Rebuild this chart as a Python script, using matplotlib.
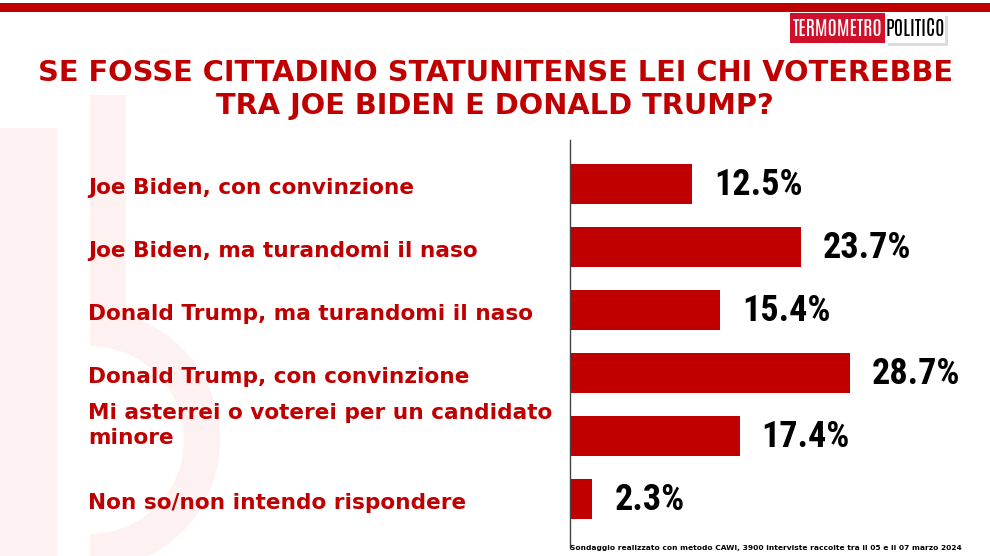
import numpy as np
import matplotlib.pyplot as plt
import matplotlib.patches as mpa
import matplotlib.transforms as mtr

categories = ["Joe Biden, con convinzione",
              "Joe Biden, ma turandomi il naso",
              "Donald Trump, ma turandomi il naso",
              "Donald Trump, con convinzione",
              "Mi asterrei o voterei per un candidato\nminore",
              "Non so/non intendo rispondere"]
values = [12.5, 23.7, 15.4, 28.7, 17.4, 2.3]
value_labels = ["12.5%", "23.7%", "15.4%", "28.7%", "17.4%", "2.3%"]
title_lines = ["SE FOSSE CITTADINO STATUNITENSE LEI CHI VOTEREBBE",
               "TRA JOE BIDEN E DONALD TRUMP?"]
note = "Sondaggio realizzato con metodo CAWI, 3900 interviste raccolte tra il 05 e il 07 marzo 2024"

RED = '#c00000'
PINK = '#fdf1f1'
NARROW = ['Roboto Condensed', 'DejaVu Sans']
LOGO = ['Antonio', 'Roboto Condensed', 'DejaVu Sans']
W, H = 990, 556

fig = plt.figure(figsize=(9.9, 5.56), dpi=100)
fig.patch.set_facecolor('white')

# background layer in pixel coordinates
bg = fig.add_axes([0, 0, 1, 1], zorder=-5)
bg.set_xlim(0, W)
bg.set_ylim(H, 0)
bg.axis('off')
bg.add_patch(mpa.Rectangle((0, 128), 57, 430, color=PINK, lw=0))
bg.add_patch(mpa.Rectangle((90, 95), 36, 250, color=PINK, lw=0))
bg.add_patch(mpa.Wedge((90, 440), 130, 270, 90, width=36, color=PINK, lw=0))
bg.add_patch(mpa.Rectangle((0, 3), W, 9, color=RED, lw=0))
# logo
bg.add_patch(mpa.Rectangle((888, 16), 60, 30, color='#bbbbbb', lw=0, alpha=0.5))
bg.add_patch(mpa.Rectangle((790, 13), 95, 30, color='#d0102a', lw=0))
bg.add_patch(mpa.Rectangle((885, 13), 60, 30, color='white', lw=0))
bg.text(837.5, 28, "TERMOMETRO", color='white', fontsize=14.5, family=LOGO,
	ha='center', va='center')
bg.text(915, 28, "POLITICO", color='black', fontsize=14.5, family=LOGO,
	ha='center', va='center')

for i, t in enumerate(title_lines):
	bg.text(W / 2, 81 + 33 * i, t, color=RED, fontsize=20.8, fontweight='bold',
		family='DejaVu Sans', ha='center', va='baseline')

# bars
ax = fig.add_axes([570 / W, 1 - 548 / H, 390 / W, 408 / H])
y = np.arange(len(values))
ax.barh(y, values, height=0.64, color=RED)
ax.set_xlim(0, 40)
ax.set_ylim(5.778, -0.698)
for s in ['top', 'right', 'bottom']:
	ax.spines[s].set_visible(False)
ax.spines['left'].set_color('#444444')
ax.spines['left'].set_linewidth(1)
ax.set_xticks([])
ax.set_yticks([])
ax.patch.set_alpha(0)

for i, (v, lab) in enumerate(zip(values, value_labels)):
	ax.text(v + 2.26, i + 0.175, lab, fontsize=26, fontweight='bold', family=NARROW,
		color='black', ha='left', va='baseline')

tr = mtr.blended_transform_factory(fig.transFigure, ax.transData)
for i, c in enumerate(categories):
	off = -0.17 if '\n' in c else 0.07
	ax.text(88 / W, i + off, c, transform=tr, fontsize=15.6, fontweight='bold',
		family='DejaVu Sans', color=RED, ha='left', va='center', linespacing=1.3)

fig.text(570 / W, 1 - 548 / H, note, fontsize=5.4, fontweight='bold',
	family='DejaVu Sans', color='black', ha='left', va='center')

plt.savefig('out.png', dpi=100)
